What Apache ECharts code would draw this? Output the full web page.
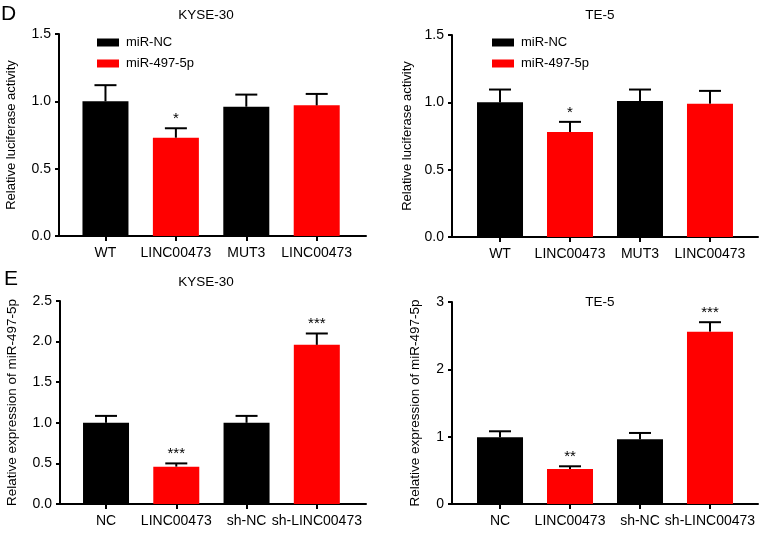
<!DOCTYPE html>
<html><head><meta charset="utf-8">
<script src="https://cdn.jsdelivr.net/npm/echarts@6/dist/echarts.min.js"></script>
<style>html,body{margin:0;padding:0;background:#fff}#c{width:765px;height:534px}</style>
</head><body><div id="c"></div>
<script>
// ---- Data ----
const catsD = ['WT', 'LINC00473', 'MUT3', 'LINC00473'];
const catsE = ['NC', 'LINC00473', 'sh-NC', 'sh-LINC00473'];
const legendNames = ['miR-NC', 'miR-497-5p'];

// Panel D1 KYSE-30 luciferase
const d1Mean = [1.00, 0.73, 0.96, 0.97];
const d1Err  = [1.12, 0.80, 1.05, 1.055];
const d1Star = ['', '*', '', ''];
// Panel D2 TE-5 luciferase
const d2Mean = [1.00, 0.78, 1.01, 0.99];
const d2Err  = [1.095, 0.855, 1.095, 1.085];
const d2Star = ['', '*', '', ''];
// Panel E1 KYSE-30 expression
const e1Mean = [1.00, 0.46, 1.00, 1.96];
const e1Err  = [1.085, 0.50, 1.085, 2.10];
const e1Star = ['', '***', '', '***'];
// Panel E2 TE-5 expression
const e2Mean = [0.99, 0.52, 0.96, 2.56];
const e2Err  = [1.08, 0.56, 1.055, 2.70];
const e2Star = ['', '**', '', '***'];

const yTicksD = [0, 0.5, 1.0, 1.5];
const yTicksE1 = [0, 0.5, 1.0, 1.5, 2.0, 2.5];
const yTicksE2 = [0, 1, 2, 3];

// ---- Build ----
const FONT = "'Liberation Sans', Arial, Helvetica, sans-serif";
const chart = echarts.init(document.getElementById('c'), null, {renderer: 'canvas'});

const panels = [
  {grid: {left: 59, top: 34, width: 307, height: 202}, xmin: -0.66, xmax: 3.70, cats: catsD, mean: d1Mean, err: d1Err, star: d1Star,
   ymax: 1.5, yint: 0.5, dec: 1, yname: 'Relative luciferase activity', nameGap: 41, nameSize: 13, names: legendNames},
  {grid: {left: 452, top: 35, width: 306, height: 202}, xmin: -0.686, xmax: 3.686, cats: catsD, mean: d2Mean, err: d2Err, star: d2Star,
   ymax: 1.5, yint: 0.5, dec: 1, yname: 'Relative luciferase activity', nameGap: 38, nameSize: 13, names: legendNames},
  {grid: {left: 60, top: 301, width: 306, height: 203}, xmin: -0.655, xmax: 3.70, cats: catsE, mean: e1Mean, err: e1Err, star: e1Star,
   ymax: 2.5, yint: 0.5, dec: 1, yname: 'Relative expression of miR-497-5p', nameGap: 41, nameSize: 13.5, names: ['grpA', 'grpB']},
  {grid: {left: 452, top: 302, width: 306, height: 202}, xmin: -0.686, xmax: 3.686, cats: catsE, mean: e2Mean, err: e2Err, star: e2Star,
   ymax: 3, yint: 1, dec: 0, yname: 'Relative expression of miR-497-5p', nameGap: 30, nameSize: 13.5, names: ['grpA', 'grpB']}
];

const grids = [], xAxes = [], yAxes = [], series = [];
panels.forEach((p, i) => {
  grids.push(Object.assign({containLabel: false}, p.grid));
  xAxes.push({
    type: 'value', gridIndex: i, min: p.xmin, max: p.xmax,
    splitLine: {show: false},
    axisLine: {show: true, onZero: false, lineStyle: {color: '#000', width: 2}},
    axisTick: {show: true, customValues: [0, 1, 2, 3], length: 5, lineStyle: {color: '#000', width: 2}},
    axisLabel: {customValues: [0, 1, 2, 3], margin: 10, color: '#000', fontSize: 14, fontFamily: FONT,
      formatter: v => p.cats[Math.round(v)]}
  });
  yAxes.push({
    type: 'value', gridIndex: i, min: 0, max: p.ymax, interval: p.yint,
    splitLine: {show: false},
    axisLine: {show: true, onZero: false, lineStyle: {color: '#000', width: 2}},
    axisTick: {show: true, length: 4, lineStyle: {color: '#000', width: 2}},
    axisLabel: {margin: 8, color: '#000', fontSize: 14, fontFamily: FONT, formatter: v => v.toFixed(p.dec)},
    name: p.yname, nameLocation: 'middle', nameGap: p.nameGap, nameRotate: 90,
    nameTextStyle: {color: '#000', fontSize: p.nameSize, fontFamily: FONT}
  });
  const blackData = [[0, p.mean[0]], [2, p.mean[2]]];
  const redData = [[1, p.mean[1]], [3, p.mean[3]]];
  series.push({type: 'bar', name: p.names[0], xAxisIndex: i, yAxisIndex: i, data: blackData, barWidth: 46, barGap: '-100%',
    itemStyle: {color: '#000000'}, silent: true, animation: false});
  series.push({type: 'bar', name: p.names[1], xAxisIndex: i, yAxisIndex: i, data: redData, barWidth: 46, barGap: '-100%',
    itemStyle: {color: '#ff0000'}, silent: true, animation: false});
  const errData = p.mean.map((m, k) => [k, m, p.err[k]]);
  const stars = p.star;
  series.push({
    type: 'custom', name: 'err' + i, xAxisIndex: i, yAxisIndex: i, data: errData, z: 5, animation: false, silent: true,
    renderItem: (params, api) => {
      const x = api.value(0), m = api.value(1), t = api.value(2);
      const p0 = api.coord([x, m]);
      const p1 = api.coord([x, t]);
      const hw = 11;
      const children = [
        {type: 'line', shape: {x1: p0[0], y1: p0[1], x2: p1[0], y2: p1[1]}, style: {stroke: '#000', lineWidth: 2}},
        {type: 'line', shape: {x1: p1[0] - hw, y1: p1[1], x2: p1[0] + hw, y2: p1[1]}, style: {stroke: '#000', lineWidth: 2}}
      ];
      const s = stars[params.dataIndex];
      if (s) {
        children.push({type: 'text', x: p1[0], y: p1[1] - 2,
          style: {text: s, fill: '#000', font: '15px ' + FONT, align: 'center', verticalAlign: 'bottom'}});
      }
      return {type: 'group', children: children};
    }
  });
});

const titleStyle = {color: '#000', fontSize: 13.5, fontWeight: 'normal', fontFamily: FONT};
const letterStyle = {color: '#000', fontSize: 21, fontWeight: 'normal', fontFamily: FONT};

const option = {
  backgroundColor: '#fff',
  animation: false,
  title: [
    {text: 'D', left: -4, top: -1, textStyle: letterStyle},
    {text: 'KYSE-30', left: 201, top: 3, textAlign: 'center', textStyle: titleStyle},
    {text: 'TE-5', left: 595, top: 3, textAlign: 'center', textStyle: titleStyle},
    {text: 'E', left: -1, top: 264, textStyle: letterStyle},
    {text: 'KYSE-30', left: 201, top: 270, textAlign: 'center', textStyle: titleStyle},
    {text: 'TE-5', left: 595, top: 290, textAlign: 'center', textStyle: titleStyle}
  ],
  legend: [
    {data: legendNames, orient: 'vertical', left: 97, top: 36, padding: 0, itemWidth: 22, itemHeight: 8, itemGap: 8,
     icon: 'rect', selectedMode: false, textStyle: {color: '#000', fontSize: 13, fontFamily: FONT, padding: [0, 0, 0, 2]}},
    {data: legendNames, orient: 'vertical', left: 492, top: 36, padding: 0, itemWidth: 22, itemHeight: 8, itemGap: 8,
     icon: 'rect', selectedMode: false, textStyle: {color: '#000', fontSize: 13, fontFamily: FONT, padding: [0, 0, 0, 2]}}
  ],
  grid: grids, xAxis: xAxes, yAxis: yAxes, series: series
};
chart.setOption(option);
</script></body></html>
